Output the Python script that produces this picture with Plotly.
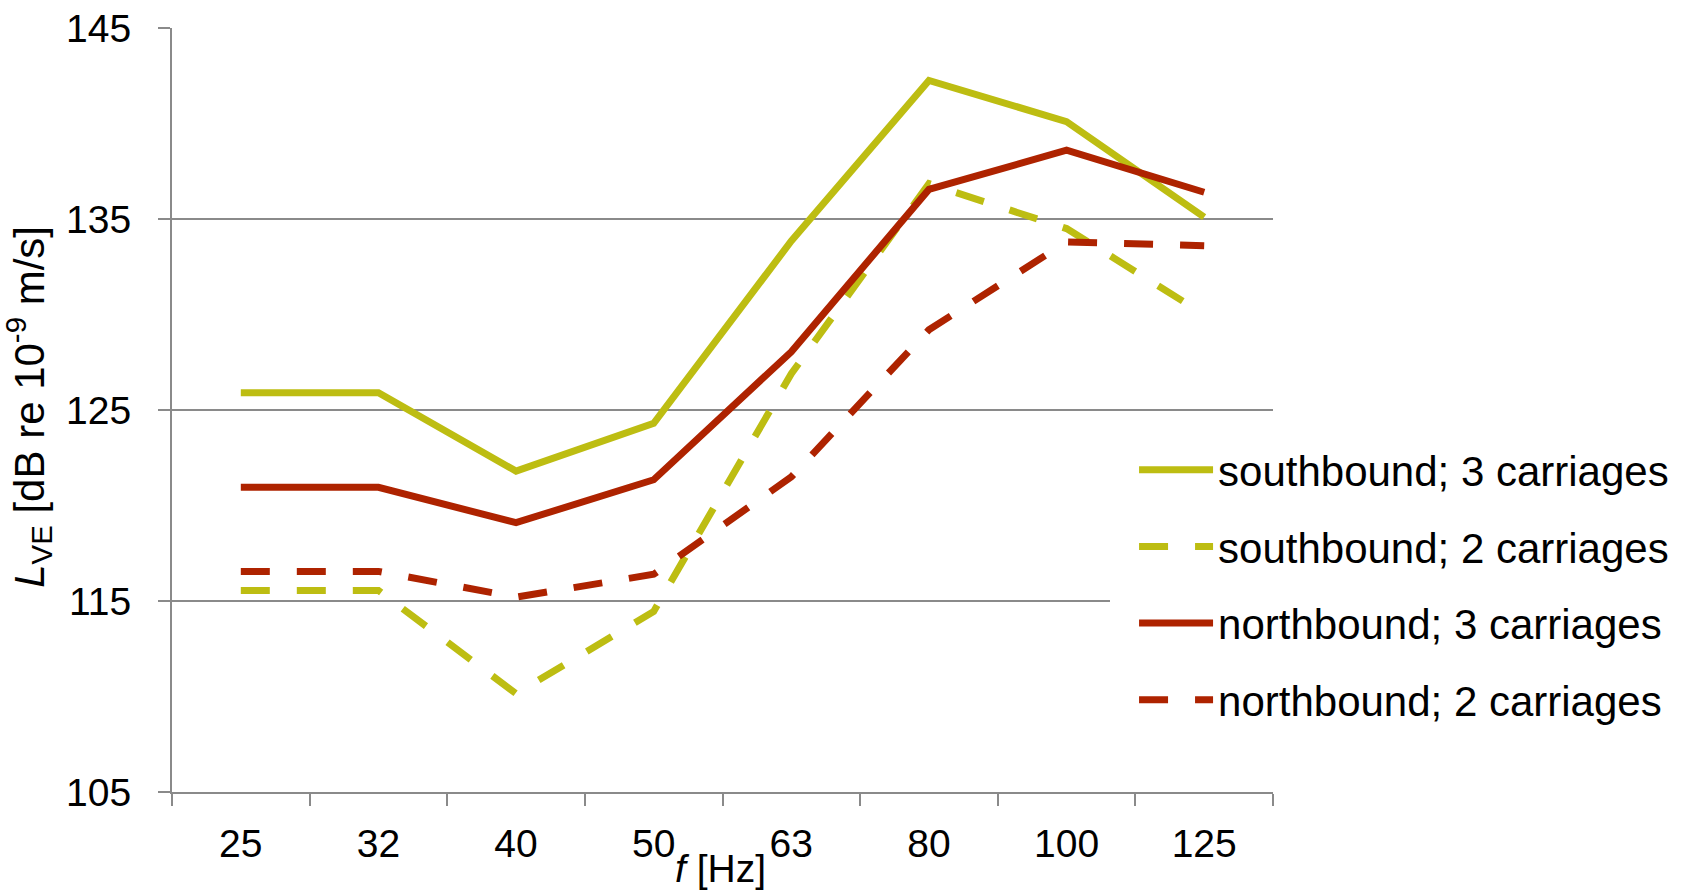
import plotly.graph_objects as go

freqs = ["25", "32", "40", "50", "63", "80", "100", "125"]
south_3 = [125.9, 125.9, 121.8, 124.3, 133.85, 142.25, 140.1, 135.1]
south_2 = [115.55, 115.55, 110.15, 114.45, 126.9, 136.85, 134.5, 130.0]
north_3 = [120.95, 120.95, 119.1, 121.35, 128.05, 136.55, 138.6, 136.4]
north_2 = [116.55, 116.55, 115.2, 116.4, 121.5, 129.2, 133.8, 133.6]
y_ticks = [105, 115, 125, 135, 145]

YELLOW = "#BDBD12"
RED = "#AE2300"
GRID = "#8A8A8A"
FONT = "Liberation Sans, Arial, sans-serif"
DASH = "29px,27px"

series = [
    ("southbound; 3 carriages", south_3, YELLOW, "solid"),
    ("southbound; 2 carriages", south_2, YELLOW, DASH),
    ("northbound; 3 carriages", north_3, RED, "solid"),
    ("northbound; 2 carriages", north_2, RED, DASH),
]

fig = go.Figure()
for i, (name, vals, col, dash) in enumerate(series):
    fig.add_trace(go.Scatter(
        x=freqs, y=vals, mode="lines", name=name, legendgroup=f"g{i}",
        line=dict(color=col, width=7, dash=dash),
    ))

fig.update_layout(
    width=1688, height=890,
    margin=dict(l=172, r=415, t=28, b=98, autoexpand=False),
    paper_bgcolor="white", plot_bgcolor="white",
    font=dict(family=FONT, size=39, color="black"),
    showlegend=True,
    legend=dict(
        x=0.852, xanchor="left", y=0.4973, yanchor="top",
        bgcolor="white", bordercolor="white", borderwidth=24,
        font=dict(family=FONT, size=42, color="black"),
        traceorder="grouped", tracegroupgap=19, itemwidth=74,
    ),
    xaxis=dict(
        type="category", range=[-0.5, 7.5], tickson="boundaries",
        ticks="outside", ticklen=12, tickwidth=2, tickcolor=GRID,
        showline=True, linecolor=GRID, linewidth=2, showgrid=False,
        tickfont=dict(family=FONT, size=39, color="black"),
        ticklabelstandoff=16,
    ),
    yaxis=dict(
        range=[105, 145], tickvals=y_ticks, ticks="outside", ticklen=12,
        tickwidth=2, tickcolor=GRID, showline=True, linecolor=GRID, linewidth=2,
        showgrid=True, gridcolor=GRID, gridwidth=2, zeroline=False,
        tickfont=dict(family=FONT, size=39, color="black"),
        ticklabelstandoff=19,
    ),
    annotations=[
        dict(text="<i>L</i><sub>VE</sub> [dB re 10<sup>-9</sup> m/s]",
             xref="paper", yref="paper", x=-0.1300, y=0.504, textangle=-90,
             xanchor="center", yanchor="middle", showarrow=False,
             font=dict(family=FONT, size=42, color="black")),
        dict(text="<i>f</i> [Hz]", xref="paper", yref="paper", x=0.4982, y=-0.0995,
             xanchor="center", yanchor="middle", showarrow=False,
             font=dict(family=FONT, size=39, color="black")),
    ],
)

fig.write_html("out.html")
